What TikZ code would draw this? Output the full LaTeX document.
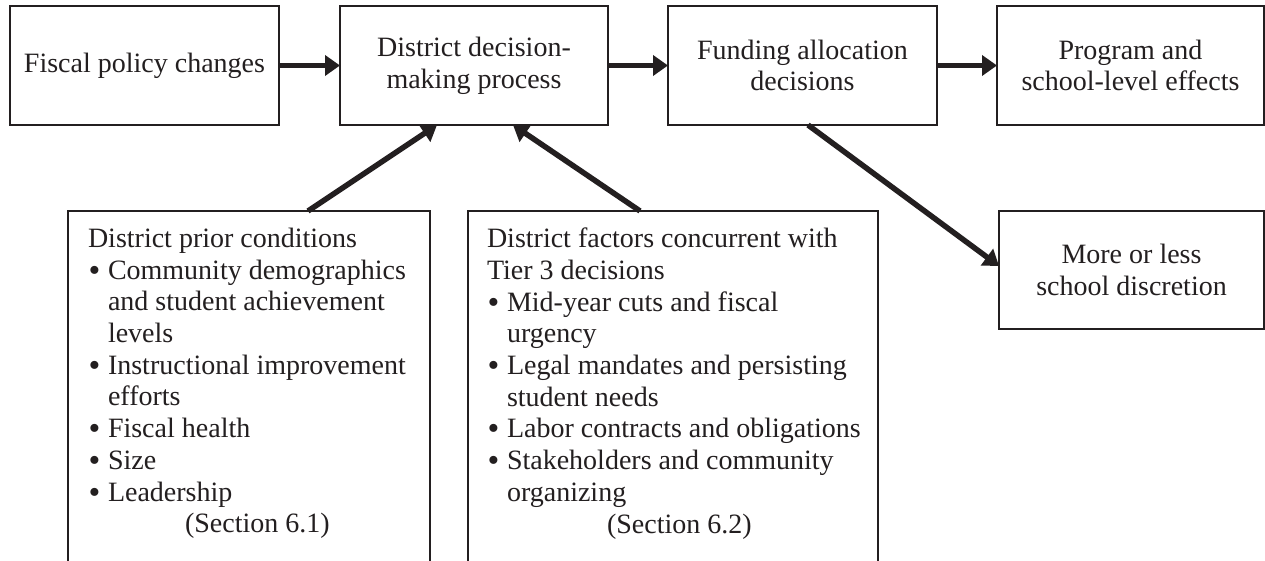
\documentclass[tikz,border=0pt]{standalone}
\usepackage{fontspec}
\setmainfont{Liberation Serif}
\usetikzlibrary{arrows.meta,calc}
\definecolor{ink}{HTML}{231F20}
\newcommand{\bul}{\makebox[20pt][l]{\hspace{0.5pt}\raisebox{-2pt}{\scalebox{1.2}{\textbullet}}}}
\newcommand{\ind}{\hspace*{20pt}}
\begin{document}
\begin{tikzpicture}[x=1pt,y=-1pt]
\tikzset{
  box/.style={draw=ink, line width=2pt, rectangle, inner sep=0pt, outer sep=0pt,
    align=center, text=ink, font=\fontsize{28}{31.7}\selectfont},
  openbox/.style={draw=ink, line width=2pt, rectangle, inner sep=0pt, outer sep=0pt,
    anchor=north west},
  listtext/.style={inner sep=0pt, outer sep=0pt, align=left, anchor=north west,
    text=ink, font=\fontsize{28}{31.7}\selectfont},
  arr/.style={draw=ink, line width=5.5pt, -{Triangle[length=15pt,width=20pt]}}
}
\clip (0,0) rectangle (1265,561);
\fill[white] (0,0) rectangle (1265,561);

\node[box, minimum width=269pt, minimum height=119pt] (fiscal) at (144.5,65.5) {Fiscal policy changes};
\node[box, minimum width=268pt, minimum height=119pt] (dist) at (474,65.5) {District decision-\\making process};
\node[box, minimum width=269pt, minimum height=119pt] (fund) at (802.5,65.5) {Funding allocation\\decisions};
\node[box, minimum width=267pt, minimum height=119pt] (prog) at (1130.5,65.5) {Program and\\school-level effects};
\node[box, minimum width=265pt, minimum height=118pt] (more) at (1131.5,270) {More or less\\school discretion};

\node[openbox, minimum width=362pt, minimum height=400pt] (prior) at (68,211) {};
\node[openbox, minimum width=410pt, minimum height=400pt] (conc) at (468,211) {};

\node[listtext] (priortxt) at (88,228) {District prior conditions\\
\bul Community demographics\\
\ind and student achievement\\
\ind levels\\
\bul Instructional improvement\\
\ind efforts\\
\bul Fiscal health\\
\bul Size\\
\bul Leadership\\
\hspace*{97pt}(Section 6.1)};

\node[listtext] (conctxt) at (487,228) {District factors concurrent with\\
Tier 3 decisions\\
\bul Mid-year cuts and fiscal\\
\ind urgency\\
\bul Legal mandates and persisting\\
\ind student needs\\
\bul Labor contracts and obligations\\
\bul Stakeholders and community\\
\ind organizing\\
\hspace*{120pt}(Section 6.2)};

\draw[arr] (fiscal.east) -- (dist.west);
\draw[arr] (dist.east) -- (fund.west);
\draw[arr] (fund.east) -- (prog.west);
\draw[arr] ([xshift=240pt]prior.north west) -- ([xshift=97pt]dist.south west);
\draw[arr] ([xshift=172pt]conc.north west) -- ([xshift=173pt]dist.south west);
\draw[arr] ([xshift=140pt]fund.south west) -- ([yshift=4pt]more.west);
\end{tikzpicture}
\end{document}
